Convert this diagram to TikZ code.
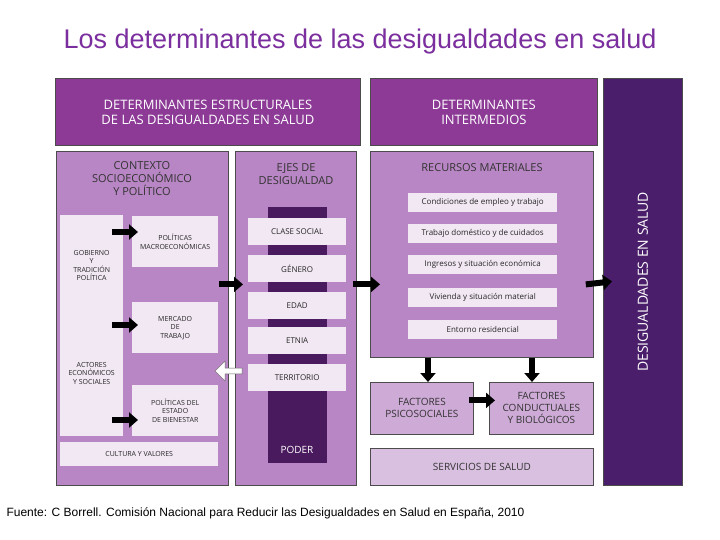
\documentclass[tikz,border=0pt]{standalone}
\usepackage{fontspec}
\setmainfont{Liberation Sans}
\newfontfamily\diagfont{Open Sans}
\usetikzlibrary{arrows.meta, calc, shapes.arrows}
\definecolor{headc}{RGB}{140,58,150}
\definecolor{panelc}{RGB}{184,134,196}
\definecolor{subc}{RGB}{206,170,214}
\definecolor{servc}{RGB}{217,192,224}
\definecolor{darkc}{RGB}{74,30,107}
\definecolor{barc}{RGB}{74,26,94}
\definecolor{itemc}{RGB}{242,232,244}
\definecolor{titlec}{RGB}{123,47,158}
\tikzset{
  box/.style={draw=black!70, line width=0.8pt, anchor=north west, inner sep=0pt, align=center, font=\diagfont},
  header/.style={box, fill=headc, text=white, font=\diagfont\fontsize{13}{15}\selectfont},
  panel/.style={box, fill=panelc, text=darkc!60!black},
  item/.style={anchor=north west, fill=itemc, inner sep=0pt, align=center, text=black!85, font=\diagfont\fontsize{8}{9.5}\selectfont},
  blockarrow/.style={line width=6pt, -{Triangle[length=9pt, width=15pt]}, black},
}
\begin{document}
\begin{tikzpicture}[x=1pt, y=-1pt]
\useasboundingbox (0,0) rectangle (720,540);
\node[font=\fontsize{27}{30}\selectfont, text=titlec] (title) at (360,42) {Los determinantes de las desigualdades en salud};
% cabeceras
\node[header, minimum width=305, minimum height=67] (hstruct) at (55,78) {DETERMINANTES ESTRUCTURALES\\DE LAS DESIGUALDADES EN SALUD};
\node[header, minimum width=227, minimum height=67] (hinter) at (370,78) {DETERMINANTES\\INTERMEDIOS};
\node[box, fill=darkc, minimum width=79, minimum height=407] (salud) at (603,78) {};
\node[rotate=90, text=white, font=\diagfont\fontsize{14}{16}\selectfont] (saludtxt) at (salud.center) {DESIGUALDADES EN SALUD};
% contexto
\node[panel, minimum width=172, minimum height=334] (contexto) at (56,151) {};
\node[anchor=north, align=center, font=\diagfont\fontsize{11}{13}\selectfont, text=black!80] (ctxtitle) at (142,158) {CONTEXTO\\SOCIOECONÓMICO\\Y POLÍTICO};
\node[item, minimum width=63, minimum height=221] (gob) at (60,215) {};
\node[item, font=\diagfont\fontsize{7}{8.5}\selectfont] (gobtxt) at (60,250) {\parbox{63pt}{\centering GOBIERNO\\Y\\TRADICIÓN\\POLÍTICA}};
\node[item, font=\diagfont\fontsize{7}{8.5}\selectfont] (acttxt) at (60,362) {\parbox{63pt}{\centering ACTORES\\ECONÓMICOS\\Y SOCIALES}};
\node[item, minimum width=86, minimum height=51, font=\diagfont\fontsize{7}{8.5}\selectfont] (macro) at (132,216) {POLÍTICAS\\MACROECONÓMICAS};
\node[item, minimum width=86, minimum height=51, font=\diagfont\fontsize{7}{8.5}\selectfont] (mercado) at (132,302) {MERCADO\\DE\\TRABAJO};
\node[item, minimum width=86, minimum height=51, font=\diagfont\fontsize{7}{8.5}\selectfont] (bienestar) at (132,385) {POLÍTICAS DEL\\ESTADO\\DE BIENESTAR};
\node[item, minimum width=158, minimum height=24, font=\diagfont\fontsize{7}{8.5}\selectfont] (cultura) at (60,442) {CULTURA Y VALORES};
\draw[blockarrow] ($(gob.east |- macro.north)+(-11,16)$) -- ($(macro.north west)+(6,16)$);
\draw[blockarrow] ($(gob.east |- mercado.north)+(-11,23)$) -- ($(mercado.north west)+(6,23)$);
\draw[blockarrow] ($(gob.east |- bienestar.north)+(-11,35)$) -- ($(bienestar.north west)+(6,35)$);
% ejes
\node[panel, minimum width=121, minimum height=334] (ejes) at (235,151) {};
\node[anchor=north, align=center, font=\diagfont\fontsize{11}{13}\selectfont, text=black!80] (ejestitle) at (296,160) {EJES DE\\DESIGUALDAD};
\node[anchor=north west, fill=barc, minimum width=59, minimum height=256, inner sep=0pt] (poder) at (268,207) {};
\node[text=white, font=\diagfont\fontsize{10}{12}\selectfont] (podertxt) at (297,450) {PODER};
\foreach \name/\txt/\y in {clase/CLASE SOCIAL/218, genero/GÉNERO/255, edad/EDAD/292, etnia/ETNIA/327, territorio/TERRITORIO/364}
  \node[item, minimum width=98, minimum height=27] (\name) at (248,\y) {\txt};
\draw[blockarrow] ($(contexto.east)+(-10,-34)$) -- ($(ejes.west)+(8,-34)$);
\node[single arrow, draw=black!60, fill=white, minimum height=27, minimum width=20, single arrow head extend=3pt, shape border rotate=180, inner sep=1pt] (hollow) at (230,371) {};
% recursos
\node[panel, minimum width=223, minimum height=206] (recursos) at (370,151) {};
\node[anchor=north, font=\diagfont\fontsize{11}{13}\selectfont, text=black!80] (rectitle) at (482,160) {RECURSOS MATERIALES};
\foreach \name/\txt/\y in {empleo/Condiciones de empleo y trabajo/193, domestico/Trabajo doméstico y de cuidados/224, ingresos/Ingresos y situación económica/255, vivienda/Vivienda y situación material/288, entorno/Entorno residencial/320}
  \node[item, minimum width=149, minimum height=19] (\name) at (408,\y) {\txt};
\draw[blockarrow] ($(ejes.east)+(-4,-34)$) -- ($(recursos.west)+(10,30)$);
\draw[blockarrow] ($(recursos.east)+(-8,30)$) -- ($(salud.west)+(9,-0.5)$);
% factores
\node[box, fill=subc, minimum width=103, minimum height=52, text=black!80, font=\diagfont\fontsize{10}{12}\selectfont] (psico) at (370,382) {FACTORES\\PSICOSOCIALES};
\node[box, fill=subc, minimum width=104, minimum height=52, text=black!80, font=\diagfont\fontsize{10}{12}\selectfont] (conduct) at (489,382) {FACTORES\\CONDUCTUALES\\Y BIOLÓGICOS};
\node[box, fill=servc, minimum width=223, minimum height=37, text=black!80, font=\diagfont\fontsize{10}{12}\selectfont] (servicios) at (370,448) {SERVICIOS DE SALUD};
\draw[blockarrow] (recursos.south -| 428,0) -- (psico.north -| 428,0);
\draw[blockarrow] (recursos.south -| 532,0) -- (conduct.north -| 532,0);
\draw[blockarrow] ($(psico.east)+(-5,-8)$) -- ($(conduct.west)+(6,-8)$);
% fuente
\node[anchor=west, font=\fontsize{12}{14}\selectfont] (fuente) at (3,513) {Fuente: C Borrell. Comisión Nacional para Reducir las Desigualdades en Salud en España, 2010};
\end{tikzpicture}
\end{document}
